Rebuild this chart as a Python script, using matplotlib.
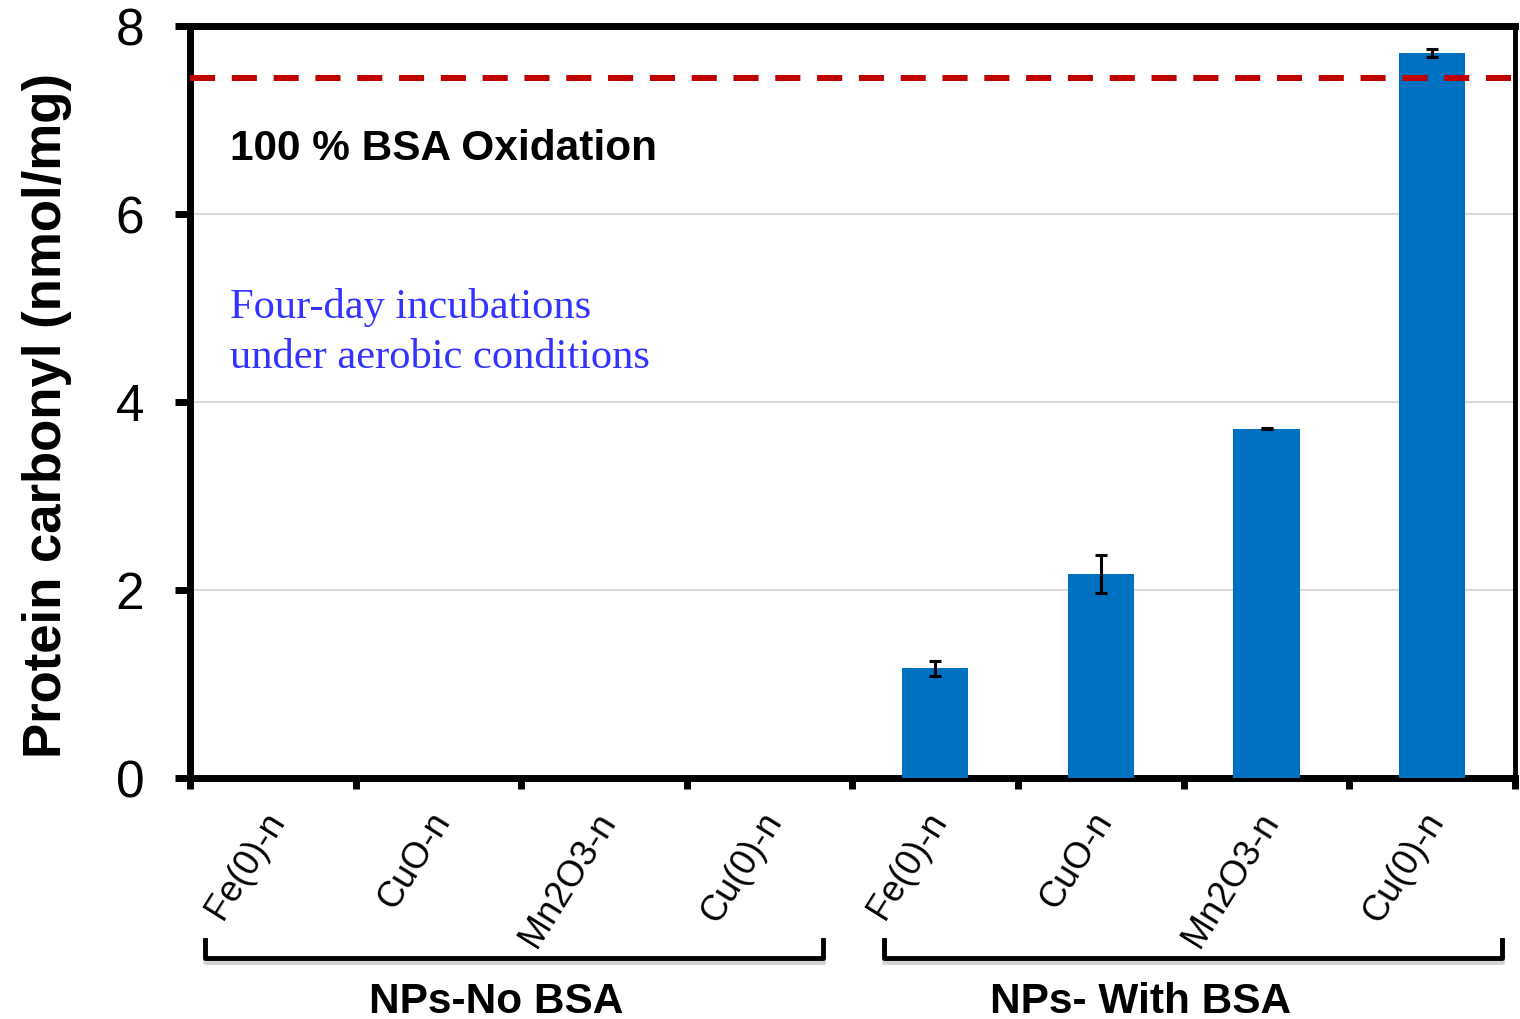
import numpy as np
import matplotlib
matplotlib.use("Agg")
import matplotlib.pyplot as plt
import matplotlib.patheffects as pe
from matplotlib.transforms import blended_transform_factory

### data
categories = ["Fe(0)-n", "CuO-n", "Mn2O3-n", "Cu(0)-n",
              "Fe(0)-n", "CuO-n", "Mn2O3-n", "Cu(0)-n"]
carbonyl = [0, 0, 0, 0, 1.17, 2.17, 3.72, 7.72]
carbonyl_err = [0, 0, 0, 0, 0.08, 0.20, 0.01, 0.045]
groups = ["NPs-No BSA", "NPs- With BSA"]
group_size = 4
full_oxidation = 7.45
yticks = [0, 2, 4, 6, 8]

### layout only (data units along x)
group_label_x = [1.35, 5.24]

plt.rcParams["font.family"] = ["Liberation Sans", "DejaVu Sans"]

fig = plt.figure(figsize=(15.2, 10.19), dpi=100)
ax = fig.add_axes([0.125, 0.2365, 0.8717, 0.7375])

x = np.arange(len(categories))
ax.bar(x, carbonyl, width=0.4, color="#0070C0", zorder=3)
### error bars only where there is a bar
has_err = np.array(carbonyl_err) > 0
ax.errorbar(x[has_err], np.array(carbonyl)[has_err], yerr=np.array(carbonyl_err)[has_err],
            fmt="none", ecolor="black", elinewidth=2.2, capsize=4.3, capthick=2.2, zorder=4)

### 100 % line
ax.axhline(full_oxidation, color="#C00000", lw=4.3, dashes=(4.2, 2.8), zorder=5)

ax.set_xlim(-0.5, len(categories) - 0.5)
ax.set_ylim(0, 8)
ax.set_yticks(yticks)
ax.tick_params(axis="y", which="major", direction="out", length=11, width=5,
               labelsize=37, pad=22)
ax.yaxis.grid(True, color="#D9D9D9", lw=1.5, zorder=0)
ax.set_axisbelow(True)

### category boundaries as ticks, names drawn rotated below
ax.set_xticks(np.arange(-0.5, len(categories), 1.0))
ax.set_xticklabels([])
ax.tick_params(axis="x", which="major", direction="out", length=8, width=5)
for xi, name in zip(x, categories):
    ax.annotate(name, xy=(xi, 0), xycoords=("data", "axes fraction"),
                xytext=(3, -27), textcoords="offset points",
                rotation=58, rotation_mode="anchor", ha="right", va="center",
                fontsize=26)

for side in ["left", "bottom", "top"]:
    ax.spines[side].set_linewidth(5)
ax.spines["right"].set_linewidth(3.5)

ax.set_ylabel("Protein carbonyl (nmol/mg)", fontsize=38, fontweight="bold")
ax.yaxis.set_label_coords(-0.089, 0.483)

ax.text(0.03, 0.822, "100 % BSA Oxidation", transform=ax.transAxes,
        fontsize=30.5, fontweight="bold", va="baseline")
ax.text(0.03, 0.545, "Four-day incubations\nunder aerobic conditions",
        transform=ax.transAxes, fontsize=30.6, color="#3333FF",
        family=["Liberation Serif", "DejaVu Serif"], va="baseline", linespacing=1.4)

### group brackets under the labels
trans = blended_transform_factory(ax.transData, fig.transFigure)
shadow = [pe.SimpleLineShadow(offset=(0, -3), shadow_color="gray", alpha=0.35),
          pe.Normal()]
y_top, y_bot = (1019 - 940) / 1019, (1019 - 958) / 1019
for i, name in enumerate(groups):
    start = i * group_size - 0.5
    end = start + group_size
    x0 = start + (0.09 if i == 0 else 0.19)
    x1 = end - (0.18 if i == 0 else 0.08)
    fig.add_artist(plt.Line2D([x0, x0, x1, x1], [y_top, y_bot, y_bot, y_top],
                              transform=trans, color="black", lw=3.5,
                              solid_joinstyle="round", path_effects=shadow))
    ax.text(group_label_x[i], (1019 - 1013) / 1019, name, transform=trans,
            ha="center", va="baseline", fontsize=30.5, fontweight="bold")

fig.savefig("out.png", dpi=100)
